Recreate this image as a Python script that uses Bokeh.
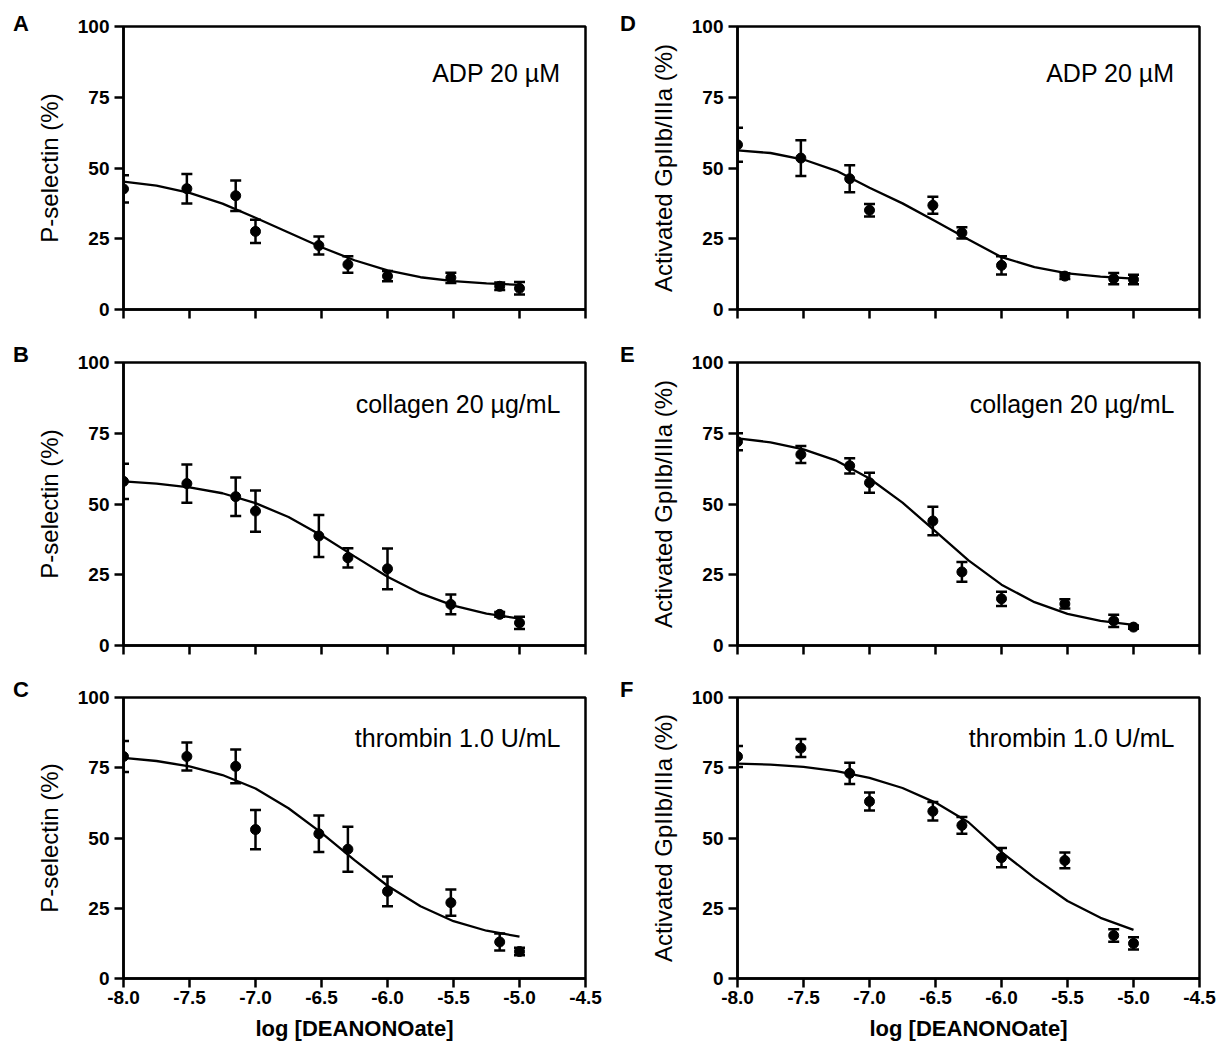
from bokeh.plotting import figure
from bokeh.layouts import column, row
from bokeh.models import Range1d, FixedTicker, Whisker, TeeHead, ColumnDataSource, Label, Div
from bokeh.embed import file_html
from bokeh.resources import INLINE

# ---------------- data ----------------
log_conc = [-8.0, -7.52, -7.15, -7.0, -6.52, -6.3, -6.0, -5.52, -5.15, -5.0]
curve_x = [-8.0, -7.75, -7.5, -7.25, -7.0, -6.75, -6.5, -6.25, -6.0, -5.75, -5.5, -5.25, -5.0]

x_ticks = [-8.0, -7.5, -7.0, -6.5, -6.0, -5.5, -5.0, -4.5]
x_tick_labels = ["-8.0", "-7.5", "-7.0", "-6.5", "-6.0", "-5.5", "-5.0", "-4.5"]
y_ticks = [0, 25, 50, 75, 100]

# A: P-selectin, ADP 20 uM
a_mean = [42.6, 42.7, 40.2, 27.6, 22.6, 15.9, 11.8, 11.2, 8.2, 7.5]
a_err = [4.8, 5.2, 5.4, 4.1, 3.2, 2.9, 1.8, 1.8, 1.3, 2.2]
a_curve = [45.2, 43.8, 41.2, 37.4, 32.4, 27.2, 22.0, 17.4, 13.8, 11.4, 10.0, 9.2, 8.7]

# B: P-selectin, collagen 20 ug/mL
b_mean = [58.0, 57.2, 52.6, 47.5, 38.7, 31.0, 27.1, 14.5, 11.0, 8.0]
b_err = [6.2, 6.8, 6.8, 7.3, 7.4, 3.4, 7.2, 3.5, 0.8, 2.2]
b_curve = [58.0, 57.2, 55.9, 53.8, 50.3, 45.4, 38.9, 31.5, 24.3, 18.4, 14.1, 11.3, 9.5]

# C: P-selectin, thrombin 1.0 U/mL
c_mean = [79.0, 79.0, 75.5, 53.0, 51.5, 46.0, 31.0, 27.0, 13.0, 9.6]
c_err = [5.5, 5.0, 6.0, 7.0, 6.5, 8.0, 5.3, 4.7, 3.0, 1.3]
c_curve = [78.5, 77.4, 75.5, 72.4, 67.6, 60.6, 51.8, 42.1, 33.0, 25.7, 20.4, 17.0, 14.9]

# D: Activated GpIIb/IIIa, ADP 20 uM
d_mean = [58.2, 53.5, 46.2, 35.1, 36.8, 27.1, 15.6, 11.8, 10.9, 10.6]
d_err = [6.0, 6.3, 4.8, 2.2, 3.0, 2.0, 3.2, 1.0, 2.0, 1.7]
d_curve = [56.2, 55.3, 53.0, 49.0, 43.0, 37.5, 31.2, 24.7, 18.5, 15.0, 12.8, 11.6, 10.9]

# E: Activated GpIIb/IIIa, collagen 20 ug/mL
e_mean = [72.0, 67.5, 63.5, 57.5, 44.0, 26.0, 16.5, 14.7, 8.7, 6.5]
e_err = [3.0, 3.0, 2.7, 3.5, 5.0, 3.5, 2.5, 1.6, 2.2, 0.6]
e_curve = [73.2, 71.8, 69.3, 65.3, 59.0, 50.5, 40.3, 30.1, 21.5, 15.3, 11.2, 8.7, 7.3]

# F: Activated GpIIb/IIIa, thrombin 1.0 U/mL
f_mean = [79.0, 82.0, 73.0, 63.0, 59.5, 54.5, 43.0, 42.0, 15.3, 12.5]
f_err = [3.7, 3.2, 3.8, 3.2, 3.3, 3.0, 3.4, 2.8, 2.2, 2.2]
f_curve = [76.5, 76.1, 75.3, 73.8, 71.4, 67.8, 62.6, 55.6, 45.0, 35.8, 27.6, 21.6, 17.3]

letters = ["A", "B", "C", "D", "E", "F"]
agonists = ["ADP 20 \u00b5M", "collagen 20 \u00b5g/mL", "thrombin 1.0 U/mL"]
y_titles = ["P-selectin (%)", "Activated GpIIb/IIIa (%)"]
x_title = "log [DEANONOate]"

FONT = "Liberation Sans"
FRAME_W = 462
FRAME_H = 283
DIV_W = 30


def make_panel(mean, err, curve, agonist, ytitle, col, rowi):
    top_b = 26
    bot_b = 26 if rowi < 2 else 63
    if rowi == 0:
        bot_b = 27
    if col == 0:
        left_b, right_b = 123 - DIV_W, 23
    else:
        left_b, right_b = 99, 17
    width = left_b + FRAME_W + right_b
    height = top_b + FRAME_H + bot_b

    p = figure(width=width, height=height, output_backend="svg", toolbar_location=None,
               x_range=Range1d(-8.0, -4.5), y_range=Range1d(0, 100),
               min_border_left=left_b, min_border_right=right_b,
               min_border_top=top_b, min_border_bottom=bot_b)
    p.xgrid.visible = False
    p.ygrid.visible = False
    p.outline_line_color = "black"
    p.outline_line_width = 2.5
    p.outline_line_alpha = 1.0
    p.background_fill_color = "white"
    p.border_fill_color = "white"

    for ax in (p.xaxis[0], p.yaxis[0]):
        ax.axis_line_width = 2.5
        ax.axis_line_color = "black"
        ax.major_tick_line_width = 2.5
        ax.major_tick_line_color = "black"
        ax.major_tick_out = 9
        ax.major_tick_in = 0
        ax.minor_tick_line_color = None
        ax.major_label_text_font = FONT
        ax.major_label_text_font_style = "bold"
        ax.major_label_text_font_size = "19px"
        ax.major_label_text_color = "black"
        ax.axis_label_text_font = FONT
        ax.axis_label_text_color = "black"

    p.yaxis.ticker = FixedTicker(ticks=y_ticks)
    p.yaxis.major_label_standoff = 5
    p.yaxis.axis_label = ytitle
    p.yaxis.axis_label_text_font_size = "24px"
    p.yaxis.axis_label_text_font_style = "normal"
    p.yaxis.axis_label_standoff = 12

    p.xaxis.ticker = FixedTicker(ticks=x_ticks)
    if rowi == 2:
        p.xaxis.major_label_overrides = {t: l for t, l in zip(x_ticks, x_tick_labels)}
        p.xaxis.major_label_standoff = 3
        p.xaxis.axis_label = x_title
        p.xaxis.axis_label_text_font_size = "22px"
        p.xaxis.axis_label_text_font_style = "bold"
        p.xaxis.axis_label_standoff = 9
    else:
        p.xaxis.major_label_overrides = {t: "" for t in x_ticks}
        p.xaxis.major_label_standoff = 0

    src = ColumnDataSource(dict(x=log_conc, y=mean,
                                upper=[m + e for m, e in zip(mean, err)],
                                lower=[m - e for m, e in zip(mean, err)]))
    w = Whisker(source=src, base="x", upper="upper", lower="lower", dimension="height",
                line_width=2.5, line_color="black",
                upper_head=TeeHead(size=11, line_width=2.5, line_color="black"),
                lower_head=TeeHead(size=11, line_width=2.5, line_color="black"))
    p.add_layout(w)

    p.line(curve_x, curve, line_width=2.3, line_color="black")
    p.scatter("x", "y", source=src, marker="circle", size=10,
              fill_color="black", line_color="black")

    ann_y = 100 - (46 if rowi == 0 else 41) / (FRAME_H / 100)
    p.add_layout(Label(x=-4.5, y=ann_y, x_offset=-25, text=agonist,
                       text_align="right", text_baseline="alphabetic",
                       text_font=FONT, text_font_size="25px", text_color="black"))
    return p


def letter_div(letter, rowi, col):
    top = 13 if rowi == 0 else 8
    left = 13 if col == 0 else 12
    html = ('<div style="margin-left:%dpx;margin-top:%dpx;font-family:\'Liberation Sans\';'
            'font-weight:bold;font-size:22px;line-height:22px;color:black">%s</div>'
            % (left, top, letter))
    return Div(text=html, width=DIV_W, height=40, margin=0)


left_data = [(a_mean, a_err, a_curve), (b_mean, b_err, b_curve), (c_mean, c_err, c_curve)]
right_data = [(d_mean, d_err, d_curve), (e_mean, e_err, e_curve), (f_mean, f_err, f_curve)]

rows = []
for i in range(3):
    pl = make_panel(*left_data[i], agonists[i], y_titles[0], 0, i)
    pr = make_panel(*right_data[i], agonists[i], y_titles[1], 1, i)
    rows.append(row(letter_div(letters[i], i, 0), pl,
                    letter_div(letters[i + 3], i, 1), pr, spacing=0))

layout = column(*rows, spacing=0)

open("out.html", "w").write(file_html(layout, INLINE))
